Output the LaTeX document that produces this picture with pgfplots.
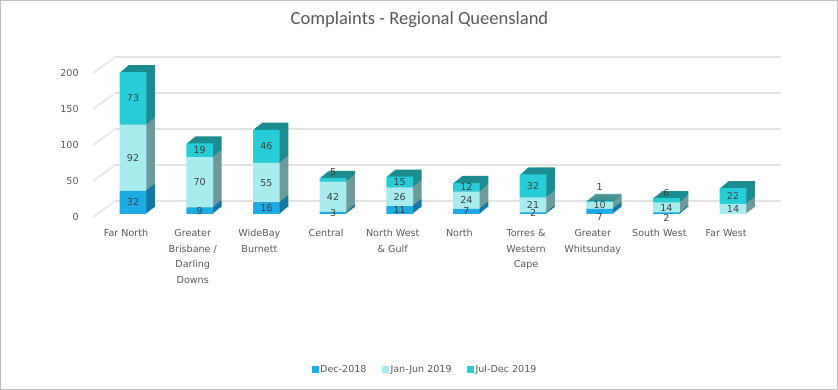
\documentclass[border=0pt]{standalone}
\usepackage{fontspec}
\setmainfont{DejaVu Sans}
\newfontfamily\titlefont{Carlito}
\usepackage{pgfplots}
\usepackage{pgfplotstable}
\pgfplotsset{compat=1.18}

\definecolor{cDec}{HTML}{1DABE3}
\definecolor{cJan}{HTML}{A8ECEF}
\definecolor{cJul}{HTML}{26CDD6}
\definecolor{sDec}{HTML}{1577A3}
\definecolor{sJan}{HTML}{6D9A9B}
\definecolor{sJul}{HTML}{1C8C90}
\definecolor{tickgray}{HTML}{595959}
\definecolor{labgray}{HTML}{404040}
\definecolor{gridgray}{HTML}{E3E3E3}

\pgfplotstableread{
x y
0 32
1 9
2 16
3 3
4 11
5 7
6 2
7 7
8 2
9 0
}\dec
\pgfplotstableread{
x y
0 92
1 70
2 55
3 42
4 26
5 24
6 21
7 10
8 14
9 14
}\janjun
\pgfplotstableread{
x y
0 73
1 19
2 46
3 5
4 15
5 12
6 32
7 1
8 6
9 22
}\juldec

\pgfplotsset{
  geom/.style={scale only axis, width=666.7bp, height=144bp,
    xmin=-0.5, xmax=9.5, ymin=0, ymax=200, anchor=south west, clip=false},
  base/.style={geom, ybar stacked, bar width=26.7bp},
}

\begin{document}
\begin{tikzpicture}
\useasboundingbox (0,0) rectangle (838bp,390bp);
\draw[black!25] (0.5bp,0.5bp) rectangle (837.5bp,389.5bp);

% back wall grid
\begin{axis}[scale only axis, width=666bp, height=144bp, at={(115bp,189bp)}, anchor=south west,
  xmin=0, xmax=1, ymin=0, ymax=200, ytick={0,50,...,200}, xtick=\empty, yticklabels={},
  ymajorgrids, grid style={gridgray, line width=1.3bp},
  axis lines=left, axis line style={draw=none}, tick style={draw=none}]
\end{axis}
\foreach \v in {0,50,...,200}
  \draw[gridgray, line width=1.3bp] (93bp,{173bp+0.72bp*\v}) -- (115bp,{189bp+0.72bp*\v});

% depth of the bars
\foreach \k in {8,7,...,1}{
\begin{axis}[base, hide axis, at={({99.7bp+1.07bp*\k},{176bp+0.88bp*\k})}]
\addplot[fill=sDec, draw=none] table[x=x,y=y]{\dec};
\addplot[fill=sJan, draw=none] table[x=x,y=y]{\janjun};
\addplot[fill=sJul, draw=none] table[x=x,y=y]{\juldec};
\end{axis}}

% front faces
\begin{axis}[base, at={(99.7bp,176bp)},
  /pgf/number format/assume math mode=true,
  axis lines=left, axis line style={draw=none}, tick style={draw=none},
  xtick={0,...,9},
  xticklabels={Far North, {Greater\\Brisbane /\\Darling\\Downs}, {WideBay\\Burnett}, Central,
    {North West\\\& Gulf}, North, {Torres \&\\Western\\Cape}, {Greater\\Whitsunday}, South West, Far West},
  ytick={0,50,...,200},
  tick label style={font=\fontsize{9.6}{15.5}\selectfont, text=tickgray},
  xticklabel style={align=center, anchor=north, yshift=-10bp, xshift=-7bp},
  yticklabel style={anchor=east, xshift=-15.4bp, yshift=-3.3bp},
  legend style={at={(0.4877,-1.083)}, anchor=center, draw=none, fill=none,
    legend columns=3, font=\fontsize{9.6}{11}\selectfont, text=tickgray,
    nodes={inner xsep=1.5bp},
    /tikz/every even column/.append style={column sep=14bp}},
  legend image code/.code={\fill[#1] (0bp,-3.5bp) rectangle (7bp,3.5bp);},
]
\addplot[fill=cDec, draw=none] table[x=x,y=y]{\dec};
\addplot[fill=cJan, draw=none] table[x=x,y=y]{\janjun};
\addplot[fill=cJul, draw=none] table[x=x,y=y]{\juldec};
\legend{Dec-2018, Jan-Jun 2019, Jul-Dec 2019}
\end{axis}

% data labels (placed at the middle of each segment)
\begin{axis}[geom, hide axis, at={(99.7bp,176bp)}]
\addplot[only marks, mark=none, point meta=explicit symbolic, nodes near coords,
  every node near coord/.append style={anchor=center, inner sep=0pt,
    font=\fontsize{9.6}{11}\selectfont, text=labgray}]
coordinates {
(0,16)[32] (0,78)[92] (0,160.5)[73]
(1,4.5)[9] (1,44)[70] (1,88.5)[19]
(2,8)[16] (2,43.5)[55] (2,94)[46]
(3,1.5)[3] (3,24)[42] (3,58.5)[5]
(4,5.5)[11] (4,24)[26] (4,44.5)[15]
(5,3.5)[7] (5,19)[24] (5,37)[12]
(6,1)[2] (6,12.5)[21] (6,39)[32]
(7,-4.1)[7] (7,12)[10] (7,36.9)[1]
(8,-5.9)[2] (8,9)[14] (8,28.7)[6]
(9,7)[14] (9,25)[22]
};
\end{axis}

\node[font=\titlefont\fontsize{18.6}{20}\selectfont, text=tickgray] at (419.5bp,370bp) {Complaints - Regional Queensland};
\end{tikzpicture}
\end{document}
